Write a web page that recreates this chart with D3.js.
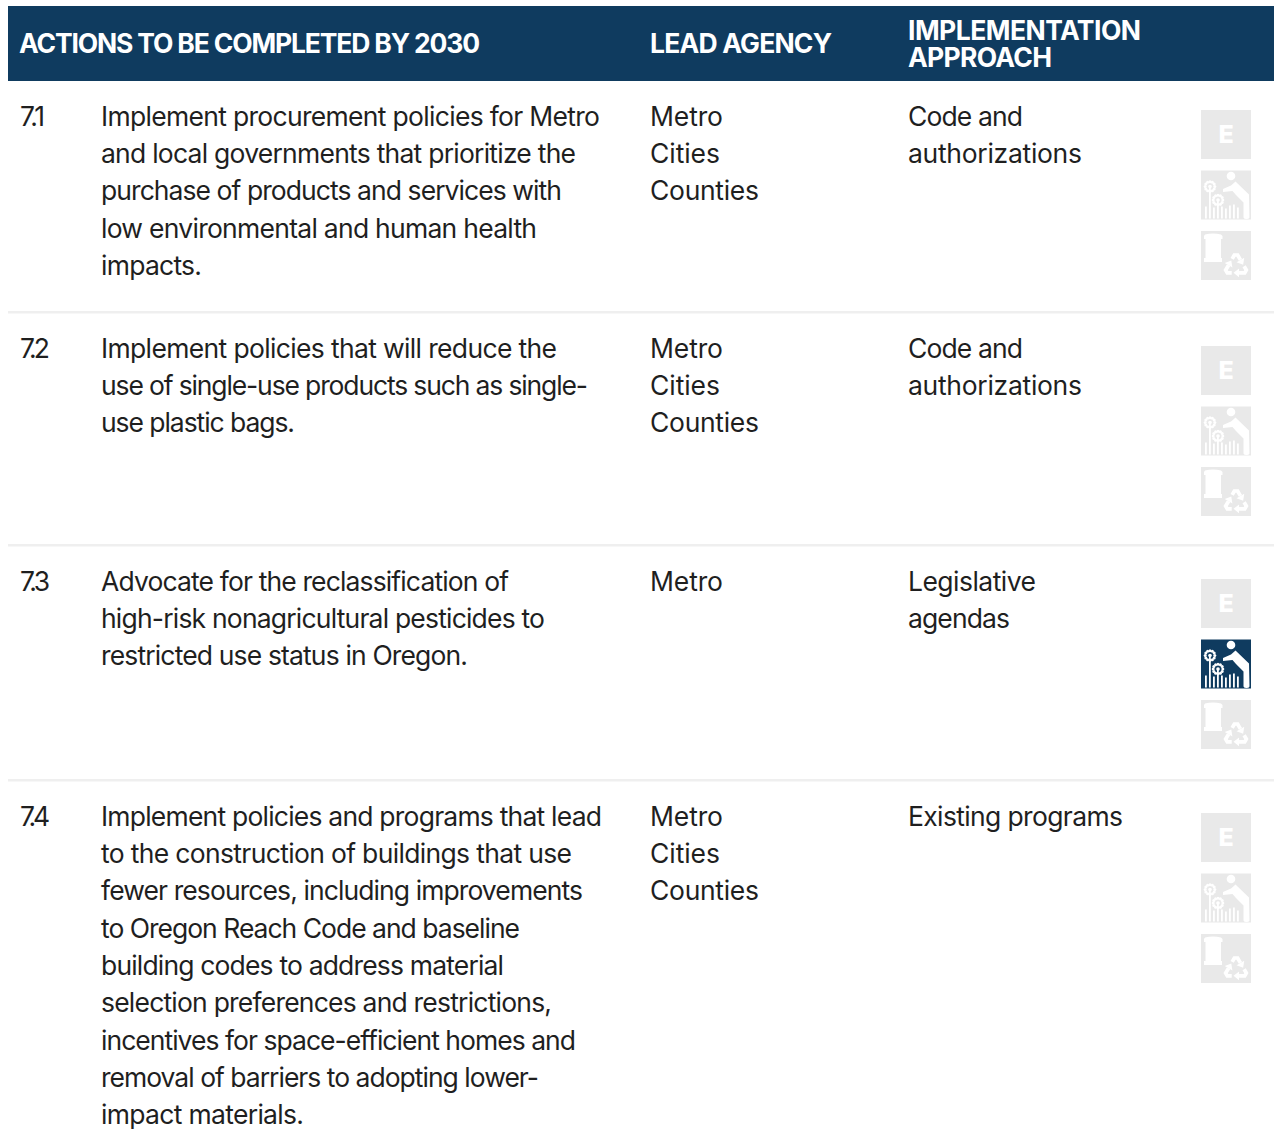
<!DOCTYPE html>
<html>
<head>
<meta charset="utf-8">
<script src="https://cdn.jsdelivr.net/npm/d3@7"></script>
<style>
  html, body { margin: 0; padding: 0; background: #fff; }
  svg { display: block; }
  text { font-family: Inter, "Noto Sans", sans-serif; }
</style>
</head>
<body>
<script>
// table contents
const headers = ['ACTIONS TO BE COMPLETED BY 2030', 'LEAD AGENCY', ['IMPLEMENTATION', 'APPROACH']];
const ids = ['7.1', '7.2', '7.3', '7.4'];
const actions = [
  ['Implement procurement policies for Metro', 'and local governments that prioritize the', 'purchase of products and services with', 'low environmental and human health', 'impacts.'],
  ['Implement policies that will reduce the', 'use of single-use products such as single-', 'use plastic bags.'],
  ['Advocate for the reclassification of', 'high-risk nonagricultural pesticides to', 'restricted use status in Oregon.'],
  ['Implement policies and programs that lead', 'to the construction of buildings that use', 'fewer resources, including improvements', 'to Oregon Reach Code and baseline', 'building codes to address material', 'selection preferences and restrictions,', 'incentives for space-efficient homes and', 'removal of barriers to adopting lower-', 'impact materials.']
];
const agencies = [
  ['Metro', 'Cities', 'Counties'],
  ['Metro', 'Cities', 'Counties'],
  ['Metro'],
  ['Metro', 'Cities', 'Counties']
];
const approaches = [
  ['Code and', 'authorizations'],
  ['Code and', 'authorizations'],
  ['Legislative', 'agendas'],
  ['Existing programs']
];
const iconNames = ['equity', 'garden', 'waste'];
// which icon is lit in each row
const activeIcons = [[], [], ['garden'], []];

// layout
const width = 1274;
const height = 1142;
const rowFirstBaseline = [125.6, 357.6, 590.6, 825.6];
const ruleY = [312, 545, 780];
const iconTop = [110, 346, 579, 813];
const lineHeight = 37.35;
const columnX = {id: 20, action: 101, agency: 650, approach: 908, icon: 1201};
const iconSize = 50;
const iconStep = 60.5;

// line widths measured on the reference, the substitute font runs differently
const idWidths = [25, 30, 30, 30];
const actionWidths = [
  [499, 475, 461, 436, 101],
  [456, 487, 194],
  [408, 444, 367],
  [501, 471, 482, 419, 403, 451, 475, 438, 203]
];
const agencyWidths = {Metro: 73, Cities: 70, Counties: 109};
const approachWidths = {'Code and': 115, authorizations: 174, Legislative: 128, agendas: 102, 'Existing programs': 215};

const navy = '#0f3b5f';
const pale = '#e9e9e9';
const ink = '#1f1f1f';

const svg = d3.select('body')
  .append('svg')
  .attr('width', width)
  .attr('height', height);

// header band
svg.append('rect')
  .attr('x', 8).attr('y', 6)
  .attr('width', width - 8).attr('height', 75)
  .attr('fill', navy);

function headerText(str, x, y, w) {
  svg.append('text')
    .attr('x', x).attr('y', y)
    .attr('fill', '#fff')
    .attr('font-size', 26.5)
    .attr('font-weight', 700)
    .attr('textLength', w)
    .attr('lengthAdjust', 'spacing')
    .text(str);
}
headerText(headers[0], 19, 53, 461);
headerText(headers[1], columnX.agency, 53, 182);
headerText(headers[2][0], columnX.approach, 40, 233);
headerText(headers[2][1], columnX.approach, 67, 144);

// row rules
svg.selectAll('.rule')
  .data(ruleY)
  .enter()
  .append('rect')
  .attr('class', 'rule')
  .attr('x', 8)
  .attr('y', d => d - 1)
  .attr('width', width - 8)
  .attr('height', 2.5)
  .attr('fill', '#efefef');

// one block of body lines
function block(g, lines, x, widthOf) {
  g.selectAll('text.l' + x)
    .data(lines)
    .enter()
    .append('text')
    .attr('class', 'l' + x)
    .attr('x', x)
    .attr('y', (d, i) => i * lineHeight)
    .attr('fill', ink)
    .attr('font-size', 26.5)
    .attr('textLength', widthOf)
    .attr('lengthAdjust', 'spacing')
    .text(d => d);
}

const rows = svg.selectAll('.row')
  .data(ids)
  .enter()
  .append('g')
  .attr('class', 'row')
  .attr('transform', (d, i) => 'translate(0,' + rowFirstBaseline[i] + ')');

rows.each(function(id, i) {
  const g = d3.select(this);
  g.append('text')
    .attr('x', columnX.id)
    .attr('fill', ink)
    .attr('font-size', 26.5)
    .attr('textLength', idWidths[i])
    .attr('lengthAdjust', 'spacing')
    .text(id);
  block(g, actions[i], columnX.action, (d, j) => actionWidths[i][j]);
  block(g, agencies[i], columnX.agency, d => agencyWidths[d]);
  block(g, approaches[i], columnX.approach, d => approachWidths[d]);
});

// pictograms, local coordinates in a 50 box
function drawEquity(g) {
  g.append('text')
    .attr('x', 25).attr('y', 33)
    .attr('text-anchor', 'middle')
    .attr('fill', '#fff')
    .attr('font-size', 25)
    .attr('font-weight', 800)
    .text('E');
}

function drawFlower(g, cx, cy) {
  const petals = d3.range(12).map(i => i * Math.PI / 6);
  g.selectAll(null)
    .data(petals)
    .enter()
    .append('circle')
    .attr('cx', d => cx + Math.cos(d) * 4.8)
    .attr('cy', d => cy + Math.sin(d) * 4.8)
    .attr('r', 1.5)
    .attr('fill', '#fff');
  g.append('circle').attr('cx', cx).attr('cy', cy).attr('r', 1.8).attr('fill', '#fff');
}

function drawGarden(g) {
  g.append('circle').attr('cx', 30).attr('cy', 5.5).attr('r', 4.3).attr('fill', '#fff');
  g.append('path')
    .attr('d', 'M22 18.5 L30 15 L34.5 11 L48 24 L48.5 47 Q48 48.5 45.5 48.5 Q43 48.5 42.5 47 L42.5 32 L35 24.5 L31.5 20.5 L22 21.5 Z')
    .attr('fill', '#fff');
  // grass, the two long ones are the flower stems
  g.selectAll(null)
    .data([[4, 36], [8, 17], [12, 37], [16, 30], [20, 36], [24, 38], [28, 35], [32, 34], [36, 37]])
    .enter()
    .append('rect')
    .attr('x', d => d[0])
    .attr('y', d => d[1])
    .attr('width', 1.8)
    .attr('height', d => 48 - d[1])
    .attr('fill', '#fff');
  drawFlower(g, 9, 16);
  drawFlower(g, 17, 29.5);
}

function drawWaste(g) {
  g.append('path')
    .attr('d', 'M4 3.5 Q12 1.5 20 3.5 L21.5 5 L21.5 8 L20 8 L20 27 L21 27 L21 31 L3 31 L3 27 L4.5 27 L4.5 8 L3 8 L3 5 Z')
    .attr('fill', '#fff');
  // recycling arrows
  const arms = g.selectAll(null)
    .data([0, 120, 240])
    .enter()
    .append('g')
    .attr('transform', d => 'translate(35,35) rotate(' + d + ') scale(1.1)');
  arms.append('path')
    .attr('d', 'M-3.5 -6.5 L-1.5 -10 L1.5 -10 L4 -5.5')
    .attr('fill', 'none')
    .attr('stroke', '#fff')
    .attr('stroke-width', 3.4);
  arms.append('path')
    .attr('d', 'M7.5 -7.5 L0.5 -3.5 L6.5 -1.2 Z')
    .attr('fill', '#fff');
}

const drawers = {equity: drawEquity, garden: drawGarden, waste: drawWaste};

ids.forEach((id, i) => {
  iconNames.forEach((name, j) => {
    const g = svg.append('g')
      .attr('transform', 'translate(' + columnX.icon + ',' + (iconTop[i] + j * iconStep) + ')');
    g.append('rect')
      .attr('width', iconSize)
      .attr('height', iconSize - 1)
      .attr('fill', activeIcons[i].includes(name) ? navy : pale);
    drawers[name](g);
  });
});
</script>
</body>
</html>
